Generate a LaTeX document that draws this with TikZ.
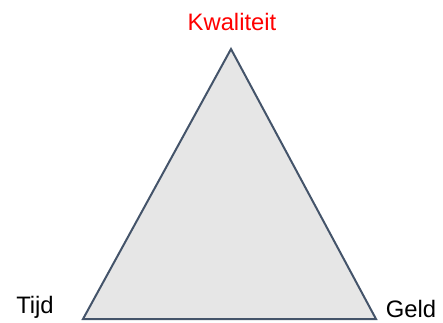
\documentclass[tikz,border=0pt]{standalone}
\usepackage{fontspec}
\setmainfont{Liberation Sans}
\usepackage{xcolor}
\usetikzlibrary{positioning}
\definecolor{edgeSlate}{HTML}{44546A}
\definecolor{faceGray}{HTML}{E6E6E6}
\definecolor{qualRed}{HTML}{FF0000}

\begin{document}
\begin{tikzpicture}[x=1pt,y=-1pt,font=\fontsize{23.8}{26}\selectfont,
  corner/.style={inner sep=0pt}]
\useasboundingbox (0,0) rectangle (443,322);
% triangle corners
\coordinate (top) at (231,49);
\coordinate (left) at (83,319);
\coordinate (right) at (376,319);
\draw[edgeSlate,line width=2pt,fill=faceGray,line join=miter] (top) -- (right) -- (left) -- cycle;
% labels
\node[corner,qualRed] (kwal) at (232,22) {Kwaliteit};
\node[corner] (tijd) at (35,307) {Tijd};
\node[corner] (geld) at (411,309) {Geld};
\end{tikzpicture}
\end{document}
